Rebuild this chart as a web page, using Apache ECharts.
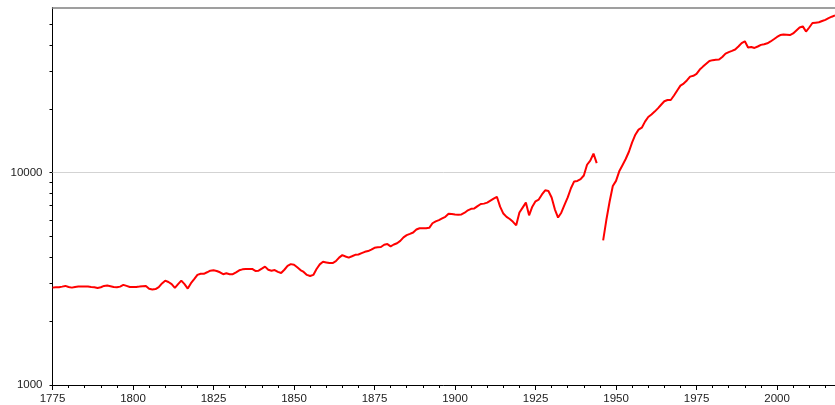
<!DOCTYPE html>
<html>
<head>
<meta charset="utf-8">
<script src="https://cdn.jsdelivr.net/npm/echarts@6/dist/echarts.min.js"></script>
<style>
  html, body { margin: 0; padding: 0; background: #fff; }
  #chart { width: 835px; height: 405px; }
</style>
</head>
<body>
<div id="chart"></div>
<script>
const firstYear = 1775;
const lastYear = 2018;

// one value per year, rows of ten starting at 1775 (1945 missing)
const values = [
  2875, 2888, 2888, 2907, 2929, 2897, 2875, 2897, 2907, 2907,
  2907, 2907, 2897, 2888, 2866, 2888, 2929, 2939, 2918, 2897,
  2888, 2907, 2961, 2929, 2897, 2897, 2897, 2907, 2918, 2929,
  2840, 2820, 2830, 2890, 3010, 3100, 3055, 2985, 2866, 2985,
  3100, 2985, 2845, 3015, 3150, 3300, 3340, 3340, 3396, 3455,
  3470, 3445, 3396, 3325, 3358, 3325, 3325, 3396, 3470, 3505,
  3520, 3520, 3520, 3445, 3455, 3530, 3610, 3490, 3455, 3480,
  3410, 3370, 3490, 3640, 3710, 3685, 3585, 3480, 3410, 3300,
  3260, 3300, 3520, 3700, 3805, 3780, 3755, 3755, 3830, 3980,
  4090, 4030, 3980, 4040, 4105, 4120, 4180, 4240, 4275, 4340,
  4430, 4450, 4465, 4575, 4610, 4500, 4590, 4655, 4775, 4960,
  5080, 5150, 5230, 5400, 5475, 5475, 5475, 5500, 5780, 5900,
  5980, 6090, 6200, 6410, 6390, 6360, 6340, 6360, 6480, 6650,
  6760, 6790, 6960, 7120, 7150, 7230, 7390, 7550, 7700, 6920,
  6420, 6190, 6050, 5870, 5650, 6490, 6850, 7230, 6300, 6920,
  7330, 7470, 7900, 8260, 8200, 7640, 6720, 6150, 6480, 7050,
  7650, 8450, 9100, 9150, 9320, 9700, 10900, 11400, 12300, 11100,
  null, 4800, 6000, 7300, 8650, 9150, 10150, 10850, 11600, 12550,
  13900, 15100, 15950, 16300, 17400, 18300, 18800, 19400, 20100, 20900,
  21700, 22000, 22000, 23100, 24400, 25700, 26300, 27200, 28350, 28600,
  29200, 30600, 31600, 32600, 33600, 33900, 34050, 34100, 35100, 36400,
  37000, 37500, 38050, 39300, 40800, 41600, 38900, 39100, 38700, 39300,
  40000, 40300, 40700, 41500, 42500, 43600, 44500, 44800, 44700, 44500,
  45300, 46800, 48300, 48900, 46200, 48300, 50700, 50900, 51100, 51800,
  52500, 53500, 54300, 55000
];

const xLabels = [1775, 1800, 1825, 1850, 1875, 1900, 1925, 1950, 1975, 2000];
const yLabels = [1000, 10000];
const yTicks = [1000, 2000, 3000, 4000, 5000, 6000, 7000, 8000, 9000,
  10000, 20000, 30000, 40000, 50000];
const gridLines = [10000];

const seriesData = values.map(function (v, i) {
  return [firstYear + i, v];
});

const myChart = echarts.init(document.getElementById('chart'));

const font = {
  fontFamily: '"Liberation Sans", Arial, sans-serif',
  fontSize: 11.5,
  color: '#222'
};

myChart.setOption({
  animation: false,
  grid: { left: 52.5, right: 0, top: 7.5, bottom: 18.5 },
  xAxis: [{
    type: 'value',
    min: firstYear,
    max: lastYear,
    interval: 25,
    axisLine: { lineStyle: { color: '#000', width: 1 } },
    axisTick: { customValues: xLabels, length: 5, lineStyle: { color: '#000' } },
    minorTick: { show: true, splitNumber: 5, length: 3, lineStyle: { color: '#000' } },
    axisLabel: Object.assign({ customValues: xLabels, margin: 8, formatter: v => String(v) }, font),
    splitLine: { show: false }
  }, {
    type: 'value',
    position: 'top',
    min: firstYear,
    max: lastYear,
    axisLine: { lineStyle: { color: '#808080', width: 1.5 } },
    axisTick: { show: false },
    axisLabel: { show: false },
    splitLine: { show: false }
  }],
  yAxis: {
    type: 'log',
    logBase: 10,
    min: 1000,
    max: 60000,
    axisLine: { show: true, lineStyle: { color: '#000', width: 1 } },
    axisTick: { show: true, customValues: yTicks, length: 3, lineStyle: { color: '#000' } },
    axisLabel: Object.assign({ customValues: yLabels, margin: 10, formatter: v => String(v) }, font),
    splitLine: { show: false }
  },
  series: [{
    type: 'line',
    xAxisIndex: 0,
    data: seriesData,
    showSymbol: false,
    connectNulls: false,
    z: 3,
    lineStyle: { color: '#ff0000', width: 2 },
    itemStyle: { color: '#ff0000' },
    markLine: {
      z: 1,
      silent: true,
      symbol: 'none',
      label: { show: false },
      lineStyle: { color: '#d3d3d3', type: 'solid', width: 1 },
      data: gridLines.map(v => ({ yAxis: v }))
    }
  }]
});

window.addEventListener('resize', () => {
  myChart.resize();
});
</script>
</body>
</html>
